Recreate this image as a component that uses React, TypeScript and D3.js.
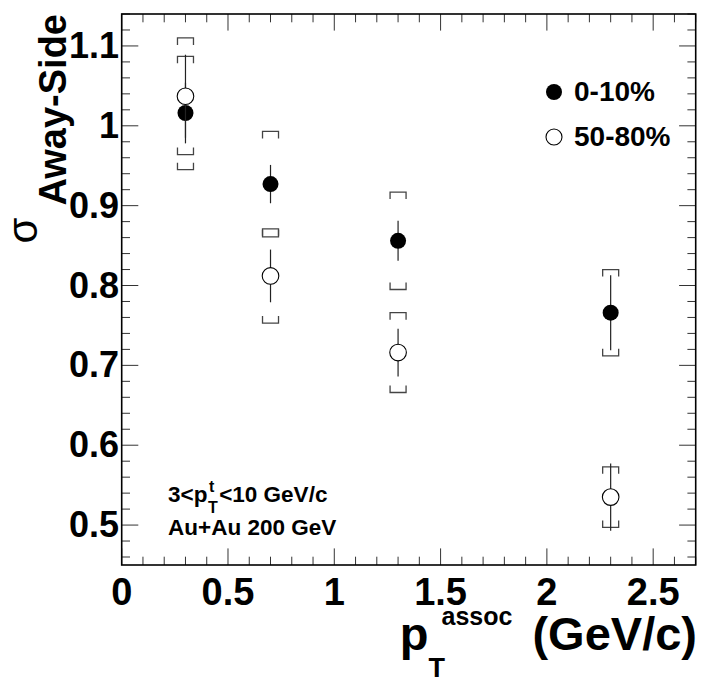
import React, { useEffect, useRef } from 'react';
import * as d3 from 'd3';

// pT assoc bin centres (GeV/c)
const ptAssoc = [0.3, 0.7, 1.3, 2.3];

// 0-10% central
const centralValues = [1.016, 0.927, 0.856, 0.766];
const centralStat = [0.038, 0.024, 0.025, 0.047];
const centralSys = [0.071, 0.066, 0.061, 0.054];

// 50-80% peripheral
const periphValues = [1.037, 0.812, 0.716, 0.535];
const periphStat = [0.052, 0.033, 0.030, 0.042];
const periphSys = [0.073, 0.059, 0.050, 0.038];

const xTickLabels = [0, 0.5, 1, 1.5, 2, 2.5];
const yTickLabels = [0.5, 0.6, 0.7, 0.8, 0.9, 1, 1.1];

const FONT = '"Liberation Sans", Arial, Helvetica, sans-serif';

const WIDTH = 708;
const HEIGHT = 683;

const App: React.FC = () => {
  const svgRef = useRef<SVGSVGElement>(null);

  useEffect(() => {
    if (!svgRef.current) return;
    const root = d3.select(svgRef.current);
    root.selectAll('*').remove();

    const x = d3.scaleLinear().domain([0, 2.7]).range([121.7, 695.7]);
    const y = d3.scaleLinear().domain([0.45, 1.14]).range([565, 14]);
    const [x0, x1] = x.range();
    const [y0, y1] = y.range();

    root.append('rect').attr('width', WIDTH).attr('height', HEIGHT).attr('fill', '#fff');

    // 刻度
    const ticks = root.append('g').attr('stroke', '#333').attr('stroke-width', 1);
    const majorLen = 16.6;
    const minorLen = 8.3;

    d3.range(0, 28).forEach(i => {
      const v = i / 10;
      const px = x(v);
      const len = i % 5 === 0 ? majorLen : minorLen;
      ticks.append('line').attr('x1', px).attr('x2', px).attr('y1', y0).attr('y2', y0 - len);
      ticks.append('line').attr('x1', px).attr('x2', px).attr('y1', y1).attr('y2', y1 + len);
    });

    d3.range(23, 58).forEach(i => {
      const v = i / 50;
      const py = y(v);
      const len = i % 5 === 0 ? majorLen : minorLen;
      ticks.append('line').attr('x1', x0).attr('x2', x0 + len).attr('y1', py).attr('y2', py);
      ticks.append('line').attr('x1', x1).attr('x2', x1 - len).attr('y1', py).attr('y2', py);
    });

    // 坐标轴标签
    root.append('g')
      .selectAll('text')
      .data(xTickLabels)
      .enter()
      .append('text')
      .attr('x', d => x(d))
      .attr('y', 605)
      .attr('text-anchor', 'middle')
      .attr('font-family', FONT)
      .attr('font-weight', 'bold')
      .attr('font-size', 38)
      .text(d => String(d));

    root.append('g')
      .selectAll('text')
      .data(yTickLabels)
      .enter()
      .append('text')
      .attr('x', 119)
      .attr('y', d => y(d) + 12)
      .attr('text-anchor', 'end')
      .attr('font-family', FONT)
      .attr('font-weight', 'bold')
      .attr('font-size', 36)
      .text(d => String(d));

    // 数据点
    const drawSeries = (vals: number[], stat: number[], sys: number[], filled: boolean) => {
      const g = root.append('g');
      vals.forEach((v, i) => {
        const px = x(ptAssoc[i]);
        const hw = 8;
        const arm = 7;
        const top = y(v + sys[i]);
        const bot = y(v - sys[i]);
        g.append('path')
          .attr('d', `M${px - hw},${top + arm}V${top}H${px + hw}V${top + arm}`)
          .attr('fill', 'none')
          .attr('stroke', '#444')
          .attr('stroke-width', 1.3);
        g.append('path')
          .attr('d', `M${px - hw},${bot - arm}V${bot}H${px + hw}V${bot - arm}`)
          .attr('fill', 'none')
          .attr('stroke', '#444')
          .attr('stroke-width', 1.3);
        g.append('line')
          .attr('x1', px).attr('x2', px)
          .attr('y1', y(v + stat[i])).attr('y2', y(v - stat[i]))
          .attr('stroke', '#222')
          .attr('stroke-width', 1.2);
        g.append('circle')
          .attr('cx', px)
          .attr('cy', y(v))
          .attr('r', filled ? 8 : 8.3)
          .attr('fill', filled ? '#000' : '#fff')
          .attr('stroke', '#000')
          .attr('stroke-width', filled ? 0 : 1.1);
      });
    };
    drawSeries(centralValues, centralStat, centralSys, true);
    drawSeries(periphValues, periphStat, periphSys, false);

    // 边框
    root.append('rect')
      .attr('x', x0).attr('y', y1)
      .attr('width', x1 - x0).attr('height', y0 - y1)
      .attr('fill', 'none')
      .attr('stroke', '#000')
      .attr('stroke-width', 1.6);

    // 图例
    const legend = [
      { label: '0-10%', filled: true, y: 92 },
      { label: '50-80%', filled: false, y: 137 }
    ];
    legend.forEach(l => {
      root.append('circle')
        .attr('cx', 554)
        .attr('cy', l.y)
        .attr('r', 8)
        .attr('fill', l.filled ? '#000' : '#fff')
        .attr('stroke', '#000')
        .attr('stroke-width', l.filled ? 0 : 1.1);
      root.append('text')
        .attr('x', 574)
        .attr('y', l.y + 8.5)
        .attr('font-family', FONT)
        .attr('font-weight', 'bold')
        .attr('font-size', 28)
        .text(l.label);
    });

    // 注释文字
    const note = root.append('g')
      .attr('font-family', FONT)
      .attr('font-weight', 'bold');
    const n1 = note.append('text').attr('x', 168).attr('y', 502).attr('font-size', 22.5).text('3<p');
    const n1End = 168 + (n1.node() as SVGTextElement).getComputedTextLength();
    const sub = note.append('text').attr('x', n1End + 0.5).attr('y', 513).attr('font-size', 16).text('T');
    note.append('text').attr('x', n1End + 1.5).attr('y', 492).attr('font-size', 16).text('t');
    const subEnd = n1End + 0.5 + (sub.node() as SVGTextElement).getComputedTextLength();
    note.append('text').attr('x', subEnd + 1.5).attr('y', 502).attr('font-size', 22.5).text('<10 GeV/c');
    note.append('text').attr('x', 168).attr('y', 535).attr('font-size', 22.5).text('Au+Au 200 GeV');

    // x 轴标题
    const xt = root.append('g')
      .attr('font-family', FONT)
      .attr('font-weight', 'bold');
    const gev = xt.append('text')
      .attr('x', 697)
      .attr('y', 650)
      .attr('text-anchor', 'end')
      .attr('font-size', 47)
      .text('(GeV/c)');
    const gevW = (gev.node() as SVGTextElement).getComputedTextLength();
    const assocEnd = 697 - gevW - 20;
    const assoc = xt.append('text')
      .attr('x', assocEnd)
      .attr('y', 625)
      .attr('text-anchor', 'end')
      .attr('font-size', 25)
      .text('assoc');
    const assocStart = assocEnd - (assoc.node() as SVGTextElement).getComputedTextLength();
    const pEnd = assocStart - 13;
    xt.append('text')
      .attr('x', pEnd)
      .attr('y', 650)
      .attr('text-anchor', 'end')
      .attr('font-size', 47)
      .text('p');
    xt.append('text')
      .attr('x', pEnd)
      .attr('y', 677)
      .attr('font-size', 27)
      .text('T');

    // y 轴标题
    const yt = root.append('g')
      .attr('transform', 'rotate(-90)')
      .attr('font-family', FONT);
    const away = yt.append('text')
      .attr('x', -14)
      .attr('y', 66)
      .attr('text-anchor', 'end')
      .attr('font-weight', 'bold')
      .attr('font-size', 38)
      .text('Away-Side');
    const awayW = (away.node() as SVGTextElement).getComputedTextLength();
    yt.append('text')
      .attr('x', -14 - awayW - 12)
      .attr('y', 37)
      .attr('text-anchor', 'end')
      .attr('font-size', 42)
      .text('σ');
  }, []);

  return (
    <svg
      ref={svgRef}
      width={WIDTH}
      height={HEIGHT}
      style={{ position: 'absolute', left: 0, top: 0, display: 'block' }}
    />
  );
};

export default App;
